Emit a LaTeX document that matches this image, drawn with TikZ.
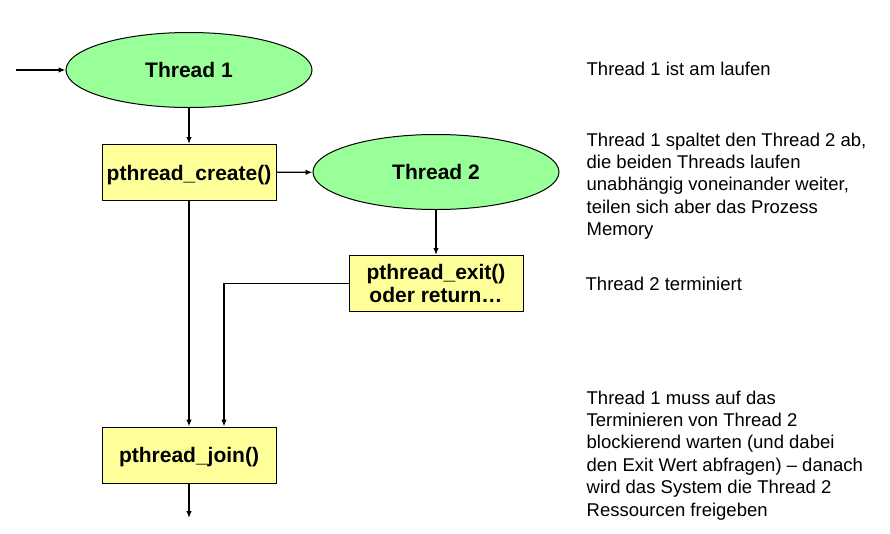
\documentclass[tikz,border=0pt]{standalone}
\usepackage{fontspec}
\setmainfont{Liberation Sans}
\usepackage{tikz}
\usetikzlibrary{shapes.geometric, positioning, arrows.meta}
\definecolor{threadgreen}{HTML}{99FF99}
\definecolor{callyellow}{HTML}{FFFF99}
\tikzset{
thread/.style={shape=ellipse, minimum width=246pt, minimum height=75pt, inner sep=0, text depth=0pt, draw, line width=1pt, fill=threadgreen, font=\fontsize{21}{23}\selectfont\bfseries}, call/.style={shape=rectangle, minimum width=174pt, minimum height=56pt, inner sep=0, text depth=0pt, draw, line width=1pt, fill=callyellow, align=center, font=\fontsize{21}{23}\selectfont\bfseries}, remark/.style={inner sep=0, align=left, font=\fontsize{18.5}{22.4}\selectfont}}

\begin{document}
\begin{tikzpicture}[x=1pt, y=-1pt, >={Latex[length=7pt, width=5.5pt]}, line width=1.3pt]
\useasboundingbox (0,0) rectangle (890,533);
\node [thread] at (189, 70) (t-1) {Thread 1};
\node [call] at (189, 172.5) (create) {pthread\_create()};
\node [thread] at (436, 172) (t-2) {Thread 2};
\node [call] at (436, 283.5) (exit) {pthread\_exit()\\oder return…};
\node [call] at (189, 455) (join) {pthread\_join()};
\coordinate (in) at (16, 70);
\coordinate (out) at (189, 518);
\draw [->] (in) -- (t-1);
\draw [->] (t-1) -- (create);
\draw [->] (create) -- (t-2);
\draw [->] (t-2) -- (exit);
\draw [->] (create) -- (join);
\draw [->] (exit.west) -| ([xshift=35pt]join.north);
\draw [->] (join) -- (out);

\node [remark, anchor=base west] at (586, 75) (note-1) {Thread 1 ist am laufen};
\node [remark, anchor=north west] at (586, 132) (note-2) {Thread 1 spaltet den Thread 2 ab,\\die beiden Threads laufen\\unabhängig voneinander weiter,\\teilen sich aber das Prozess\\Memory};
\node [remark, anchor=base west] at (585, 290) (note-3) {Thread 2 terminiert};
\node [remark, anchor=north west] at (586, 390) (note-4) {Thread 1 muss auf das\\Terminieren von Thread 2\\blockierend warten (und dabei\\den Exit Wert abfragen) -- danach\\wird das System die Thread 2\\Ressourcen freigeben};
\end{tikzpicture}
\end{document}
